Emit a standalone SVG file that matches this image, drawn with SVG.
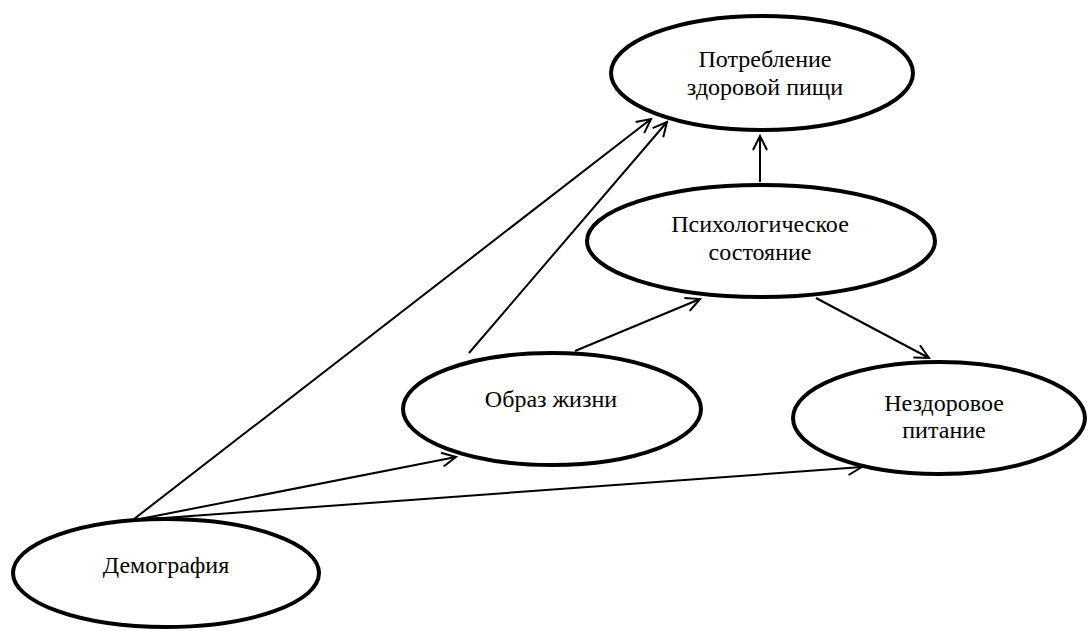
<svg xmlns="http://www.w3.org/2000/svg" width="1088" height="631" viewBox="0 0 1088 631">
<style>
.node ellipse{fill:#fff;stroke:#000;stroke-width:4}
.node text{font-size:24px;fill:#000;text-anchor:middle}
.edge{stroke:#000;stroke-width:2;fill:none;marker-end:url(#arr)}
</style>
<defs>
<marker id="arr" markerUnits="userSpaceOnUse" markerWidth="22" markerHeight="22" viewBox="-18 -11 22 22" refX="0" refY="0" orient="auto">
<path d="M-14,-7 L0,0 L-14,7" fill="none" stroke="#000" stroke-width="2"/>
</marker>
</defs>
<rect width="1088" height="631" fill="#fff"/>
<g id="connectors">
<line class="edge" x1="134" y1="519" x2="651" y2="119"/>
<line class="edge" x1="469" y1="353" x2="667" y2="122"/>
<line class="edge" x1="140" y1="519" x2="456" y2="457"/>
<line class="edge" x1="150" y1="519" x2="862" y2="467"/>
<line class="edge" x1="575" y1="351" x2="700" y2="299"/>
<line class="edge" x1="816" y1="298" x2="929" y2="358"/>
<line class="edge" x1="760" y1="182" x2="760" y2="136"/>
</g>
<g id="node-potreblenie" class="node" font-family="'Liberation Serif', 'Times New Roman', 'DejaVu Serif', serif">
<ellipse cx="762" cy="73" rx="151" ry="57"/>
<text x="765" y="67">Потребление</text>
<text x="765" y="95">здоровой пищи</text>
</g>
<g id="node-psych" class="node" font-family="'Liberation Serif', 'Times New Roman', 'DejaVu Serif', serif">
<ellipse cx="761" cy="241" rx="174" ry="56"/>
<text x="760" y="232">Психологическое</text>
<text x="760" y="260">состояние</text>
</g>
<g id="node-obraz" class="node" font-family="'Liberation Serif', 'Times New Roman', 'DejaVu Serif', serif">
<ellipse cx="552" cy="409" rx="149" ry="56"/>
<text x="551" y="407">Образ жизни</text>
</g>
<g id="node-nezdorovoe" class="node" font-family="'Liberation Serif', 'Times New Roman', 'DejaVu Serif', serif">
<ellipse cx="939" cy="418" rx="146" ry="56"/>
<text x="944" y="411">Нездоровое</text>
<text x="944" y="438">питание</text>
</g>
<g id="node-demografia" class="node" font-family="'Liberation Serif', 'Times New Roman', 'DejaVu Serif', serif">
<ellipse cx="166" cy="573" rx="153" ry="54"/>
<text x="166" y="573">Демография</text>
</g>
</svg>
